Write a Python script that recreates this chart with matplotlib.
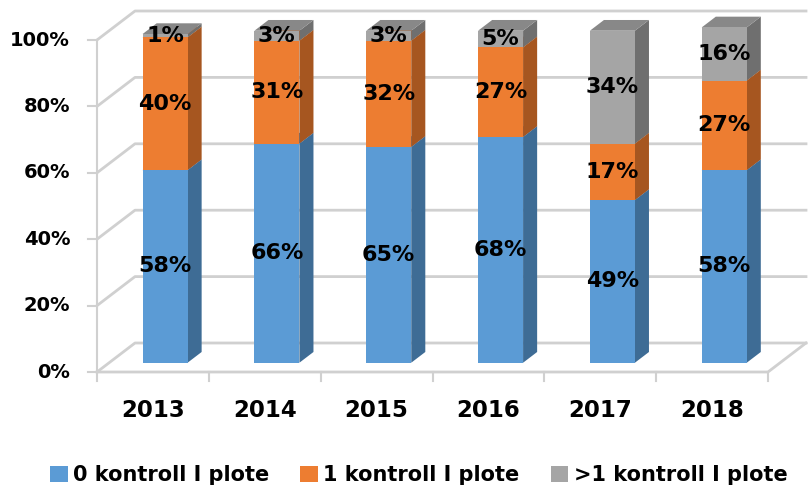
import matplotlib
matplotlib.use("Agg")
import matplotlib.pyplot as plt
from matplotlib.patches import Patch

# data
years = ["2013", "2014", "2015", "2016", "2017", "2018"]
zero_ctrl = [58, 66, 65, 68, 49, 58]
one_ctrl = [40, 31, 32, 27, 17, 27]
more_ctrl = [1, 3, 3, 5, 34, 16]
series_names = ["0 kontroll I plote", "1 kontroll I plote", ">1 kontroll I plote"]
y_ticks = [0, 20, 40, 60, 80, 100]

front_cols = ["#5B9BD5", "#ED7D31", "#A5A5A5"]
side_cols = ["#3E6C95", "#A65620", "#6F6F6F"]
top_cols = ["#4E88BD", "#C96A28", "#888888"]
grid_col = "#D0D0D0"

plt.rcParams["font.family"] = "DejaVu Sans"
plt.rcParams["font.weight"] = "bold"

W, H = 808, 490
fig = plt.figure(figsize=(W / 100, H / 100), dpi=100)
# front plane of the pseudo-3d box, in pixels
left_px, right_px, zero_px, top_px = 97, 768, 372, 40
ax = fig.add_axes([left_px / W, (H - zero_px) / H,
                   (right_px - left_px) / W, (zero_px - top_px) / H])
n = len(years)
ax.set_xlim(-0.5, n - 0.5)
ax.set_ylim(0, 100)
ax.axis("off")

px_x = (right_px - left_px) / n      # pixels per category
px_y = (zero_px - top_px) / 100.0    # pixels per percent
DX = 38 / px_x                       # box depth in data units
DY = 29 / px_y
F0, F1 = 0.32, 0.69                  # bar depth position inside the box
bar_w = 45 / px_x
sdx, sdy = (F1 - F0) * DX, (F1 - F0) * DY

# walls and floor
x0, x1 = -0.5, n - 0.5
for v in y_ticks:
    ax.plot([x0, x0 + DX, x1 + DX], [v, v + DY, v + DY], color=grid_col,
            lw=2, clip_on=False, zorder=1)
    ax.plot([x0 - 0.08, x0], [v, v], color=grid_col, lw=1.5, clip_on=False)
    ax.text(x0 - 0.24, v, f"{v}%", ha="right", va="center", fontsize=14)
ax.plot([x0, x1, x1 + DX], [0, 0, DY], color=grid_col, lw=2, clip_on=False, zorder=1)
ax.plot([x0, x0], [0, 100], color=grid_col, lw=1.5, clip_on=False, zorder=1)
for i in range(n + 1):
    ax.plot([i - 0.5, i - 0.5], [0, -2.6], color=grid_col, lw=1.5, clip_on=False)
for i, yr in enumerate(years):
    ax.text(i, -11.5, yr, ha="center", va="center", fontsize=16.5)

# stacked bars with side and top faces
for i in range(n):
    xc = i + F0 * DX
    xa, xb = xc - bar_w / 2, xc + bar_w / 2
    base = F0 * DY
    for k, vals in enumerate([zero_ctrl, one_ctrl, more_ctrl]):
        v = vals[i]
        top = base + v
        ax.fill([xb, xb + sdx, xb + sdx, xb], [base, base + sdy, top + sdy, top],
                color=side_cols[k], lw=0, zorder=3, clip_on=False)
        ax.fill([xa, xa + sdx, xb + sdx, xb], [top, top + sdy, top + sdy, top],
                color=top_cols[k], lw=0, zorder=3, clip_on=False)
        ax.bar(xc, v, width=bar_w, bottom=base, color=front_cols[k],
               zorder=4, clip_on=False)
        ax.text(xc, base + v / 2, f"{v}%", ha="center", va="center",
                fontsize=16, zorder=5)
        base = top

handles = [Patch(facecolor=c, edgecolor="none") for c in front_cols]
fig.legend(handles, series_names, loc="center", bbox_to_anchor=(0.518, 0.03),
           ncol=3, frameon=False, fontsize=15, handlelength=0.85,
           handleheight=0.85, handletextpad=0.25, columnspacing=1.5)

fig.savefig("out.png", dpi=100)
